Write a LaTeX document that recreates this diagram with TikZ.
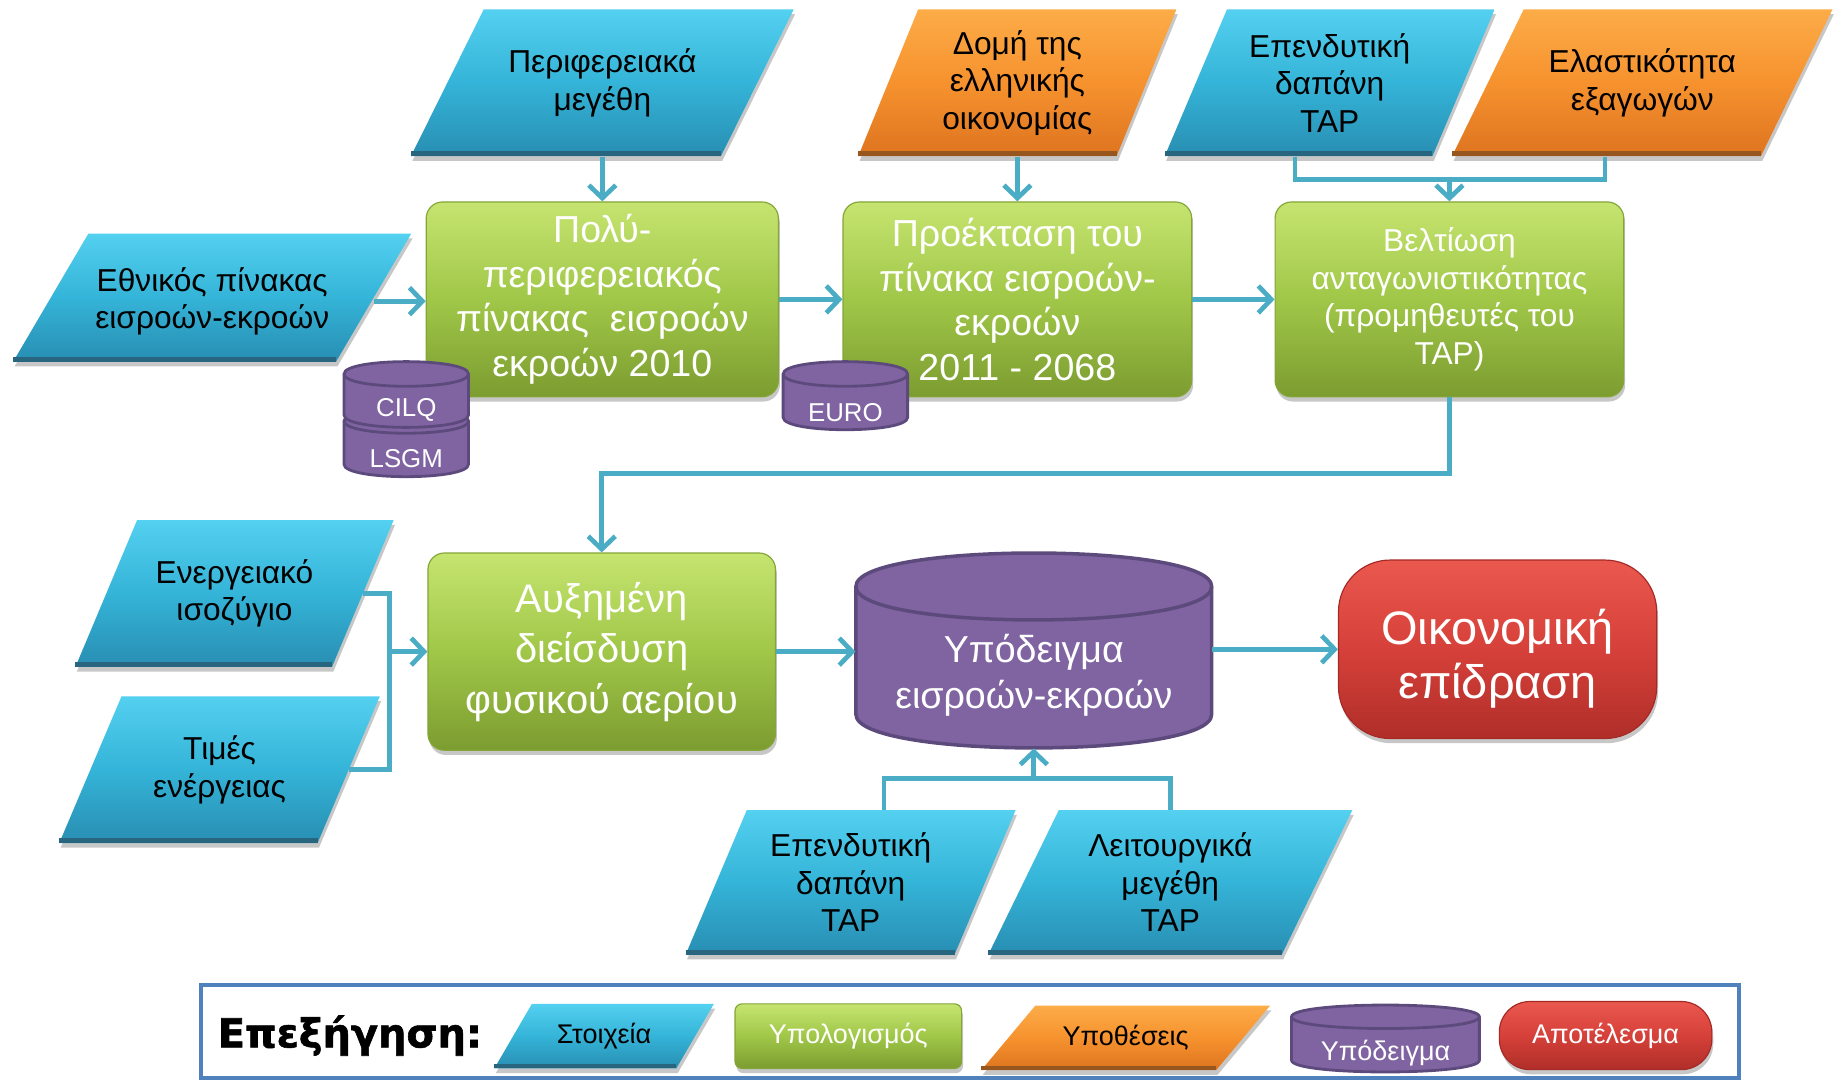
\documentclass[tikz,border=0pt]{standalone}
\usepackage{fontspec}
\setmainfont{Liberation Sans}
\newfontfamily\heavyfont{DejaVu Sans}[BoldFeatures={FakeBold=1.5}]
\usetikzlibrary{arrows.meta,shadows,calc}

\definecolor{bluetop}{RGB}{84,208,240}
\definecolor{bluemid}{RGB}{52,180,216}
\definecolor{bluebot}{RGB}{40,142,178}
\definecolor{blueedge}{RGB}{40,102,128}
\definecolor{oratop}{RGB}{252,172,72}
\definecolor{oramid}{RGB}{246,146,46}
\definecolor{orabot}{RGB}{222,116,32}
\definecolor{oraedge}{RGB}{150,86,30}
\definecolor{gretop}{RGB}{198,228,112}
\definecolor{gremid}{RGB}{160,199,72}
\definecolor{grebot}{RGB}{124,156,48}
\definecolor{greedge}{RGB}{132,166,56}
\definecolor{purfill}{RGB}{128,100,162}
\definecolor{purdraw}{RGB}{93,74,125}
\definecolor{redtop}{RGB}{234,88,78}
\definecolor{redmid}{RGB}{214,64,58}
\definecolor{redbot}{RGB}{176,46,40}
\definecolor{rededge}{RGB}{165,42,38}
\definecolor{arrowc}{RGB}{75,172,198}
\definecolor{legframe}{RGB}{79,129,189}

\tikzset{
  shad/.style={drop shadow={shadow xshift=0.6pt,shadow yshift=-2pt,opacity=0.22,fill=black}},
  blufill/.style={shad, top color=bluetop, bottom color=bluebot, middle color=bluemid},
  bluedge/.style={draw=blueedge, line width=2pt},
  orafill/.style={shad, top color=oratop, bottom color=orabot, middle color=oramid},
  oraedge/.style={draw=oraedge, line width=2pt},
  paratext/.style={align=center, inner sep=0pt, text=black, font=\fontsize{13.5}{16}\selectfont},
  greenbox/.style={shad, rounded corners=7pt, top color=gretop, bottom color=grebot, middle color=gremid, draw=greedge, line width=0.5pt, text=white, align=center, inner sep=0pt},
  redbox/.style={shad, rounded corners=22pt, top color=redtop, bottom color=redbot, middle color=redmid, draw=rededge, line width=0.5pt, text=white, align=center, inner sep=0pt},
  conn/.style={draw=arrowc, line width=2pt},
  arr/.style={conn, -{Straight Barb[length=5.5pt,width=11.5pt]}},
  cylbody/.style={fill=purfill, draw=purdraw},
  cyltext/.style={text=white, align=center, inner sep=0pt},
}

% optional node options, name, cx, cy, edge width, height, slant, colour prefix, text
\newcommand\parashape[9][]{%
  \path[#8fill] ({#3-#5/2+#7/2},{#4-#6/2}) -- ({#3+#5/2+#7/2},{#4-#6/2}) -- ({#3+#5/2-#7/2},{#4+#6/2}) -- ({#3-#5/2-#7/2},{#4+#6/2}) -- cycle;
  \draw[#8edge] ({#3+#5/2-#7/2},{#4+#6/2-2}) -- ({#3-#5/2-#7/2},{#4+#6/2-2});
  \node[paratext, #1, minimum width={#5*0.5pt}, minimum height={#6*0.5pt}] (#2) at (#3,#4) {#9};
}

% x1, x2, top, bottom, ry, line width
\newcommand\cylshape[6]{%
  \path[cylbody, line width=#6] (#1,{#3+#5}) -- (#1,{#4-#5}) .. controls (#1,{#4-#5+1.333*#5}) and (#2,{#4-#5+1.333*#5}) .. (#2,{#4-#5}) -- (#2,{#3+#5}) .. controls (#2,{#3+#5-1.333*#5}) and (#1,{#3+#5-1.333*#5}) .. (#1,{#3+#5}) -- cycle;
  \draw[draw=purdraw, line width=#6] (#1,{#3+#5}) .. controls (#1,{#3+#5+1.333*#5}) and (#2,{#3+#5+1.333*#5}) .. (#2,{#3+#5});
}

\begin{document}
\begin{tikzpicture}[x=0.5pt,y=-0.5pt]
\useasboundingbox (0,0) rectangle (1568,921);

% ---- input parallelograms
\parashape{per}{513}{70.5}{264}{125}{62}{blu}{Περιφερειακά\\μεγέθη}
\parashape{dom}{866.5}{70.5}{220}{125}{51}{ora}{Δομή της\\ελληνικής\\οικονομίας}
\parashape{ept}{1132.5}{70.5}{228}{125}{53}{blu}{Επενδυτική\\δαπάνη\\TAP}
\parashape{ela}{1398.75}{70.5}{263}{125}{61}{ora}{Ελαστικότητα\\εξαγωγών}
\parashape[yshift=-1.5pt]{eth}{180.75}{253.5}{275}{109}{64}{blu}{Εθνικός πίνακας\\εισροών-εκροών}
\parashape{ene}{199.75}{505.5}{218.5}{125}{52.5}{blu}{Ενεργειακό\\ισοζύγιο}
\parashape{tim}{187}{655.5}{220}{125}{53}{blu}{Τιμές\\ενέργειας}
\parashape{epb}{724.5}{751.5}{229}{123}{52}{blu}{Επενδυτική\\δαπάνη\\TAP}
\parashape{lei}{996.75}{751.5}{250}{123}{60}{blu}{Λειτουργικά\\μεγέθη\\TAP}

% ---- computation boxes
\node[greenbox, minimum width=150pt, minimum height=83pt, font=\fontsize{16}{19}\selectfont] (pol) at (513,255) {Πολύ-\\περιφερειακός\\πίνακας\ \ εισροών\\εκροών 2010};
\node[greenbox, minimum width=148.5pt, minimum height=83pt, font=\fontsize{16}{19}\selectfont] (pro) at (866.5,255) {Προέκταση του\\πίνακα εισροών-\\εκροών\\2011 - 2068};
\node[greenbox, minimum width=148.5pt, minimum height=83pt, font=\fontsize{13.5}{16}\selectfont] (bel) at (1234.5,255) {Βελτίωση\\ανταγωνιστικότητας\\(προμηθευτές του\\TAP)};
\node[greenbox, minimum width=148pt, minimum height=84pt, font=\fontsize{17}{21.5}\selectfont] (aux) at (512.5,555) {Αυξημένη\\διείσδυση\\φυσικού αερίου};

% ---- result
\node[redbox, minimum width=135.5pt, minimum height=76pt] (oik) at (1275.5,553) {};
\node[text=white, align=center, inner sep=0pt, font=\fontsize{20}{23}\selectfont] (oikt) at (1275.5,561) {Οικονομική\\επίδραση};

% ---- model cylinders
\cylshape{729}{1032}{471}{637}{28.5}{1.5pt}
\node[cyltext, minimum width=151.5pt, minimum height=62pt, font=\fontsize{16}{19.5}\selectfont] (ypo) at (880.5,575) {Υπόδειγμα\\εισροών-εκροών};

\cylshape{293}{399}{348}{406}{10.5}{1.2pt}
\cylshape{293}{399}{308}{364}{10.5}{1.2pt}
\node[cyltext, font=\fontsize{11}{13}\selectfont] (cilq) at (346,349) {CILQ};
\node[cyltext, font=\fontsize{11}{13}\selectfont] (lsgm) at (346,391) {LSGM};
\cylshape{667}{773}{308}{366}{10.5}{1.2pt}
\node[cyltext, font=\fontsize{11}{13}\selectfont] (euro) at (720,351) {EURO};

% ---- connectors
\draw[arr] (per.south) -- (pol.north);
\draw[arr] (dom.south) -- (pro.north);
\coordinate (tl) at (1103,153);
\coordinate (tr) at (1367,153);
\coordinate (tj) at (1234.5,153);
\draw[conn] (ept.south -| tl) -- (tl) -- (tr) -- (ela.south -| tr);
\draw[arr] (tj) -- (bel.north);
\draw[arr] (eth.east) -- (eth.east -| pol.west);
\draw[arr] (pol.east) -- (pro.west);
\draw[arr] (pro.east) -- (bel.west);
\coordinate (mj) at (1234.5,403);
\draw[arr] (bel.south) -- (mj) -| (aux.north);
\coordinate (lj) at (332,555);
\draw[conn] (ene.east) -| (lj) |- (tim.east);
\draw[arr] (lj) -- (aux.west);
\draw[arr] (aux.east) -- (aux.east -| ypo.west);
\draw[arr] (oik.west -| ypo.east) -- (oik.west);
\coordinate (bl) at (753,663);
\coordinate (br) at (996.75,663);
\coordinate (bj) at (880.5,663);
\draw[conn] (epb.north -| bl) -- (bl) -- (br) -- (lei.north);
\draw[arr] (bj) -- (ypo.south);

% ---- legend
\draw[legframe, line width=1.5pt] (171,839) rectangle (1481,918);
\node[font=\heavyfont\bfseries\fontsize{17}{20}\selectfont, inner sep=0pt] (legt) at (298,882) {Επεξήγηση:};
\parashape[font=\fontsize{11.5}{13}\selectfont]{lst}{514.5}{882.5}{155}{55}{32}{blu}{Στοιχεία}
\node[greenbox, rounded corners=3pt, minimum width=96.5pt, minimum height=27.5pt, font=\fontsize{11.5}{13}\selectfont] (lyp) at (722.5,882.5) {Υπολογισμός};
\parashape[font=\fontsize{11.5}{13}\selectfont]{lyt}{958.75}{884}{200}{55}{46}{ora}{Υποθέσεις}
\cylshape{1100}{1260}{856}{913}{10}{1.2pt}
\node[cyltext, font=\fontsize{11.5}{13}\selectfont] (lmo) at (1180,897) {Υπόδειγμα};
\node[redbox, rounded corners=13pt, minimum width=90.5pt, minimum height=29pt, font=\fontsize{11.5}{13}\selectfont] (lap) at (1367.5,882) {Αποτέλεσμα};
\end{tikzpicture}
\end{document}
